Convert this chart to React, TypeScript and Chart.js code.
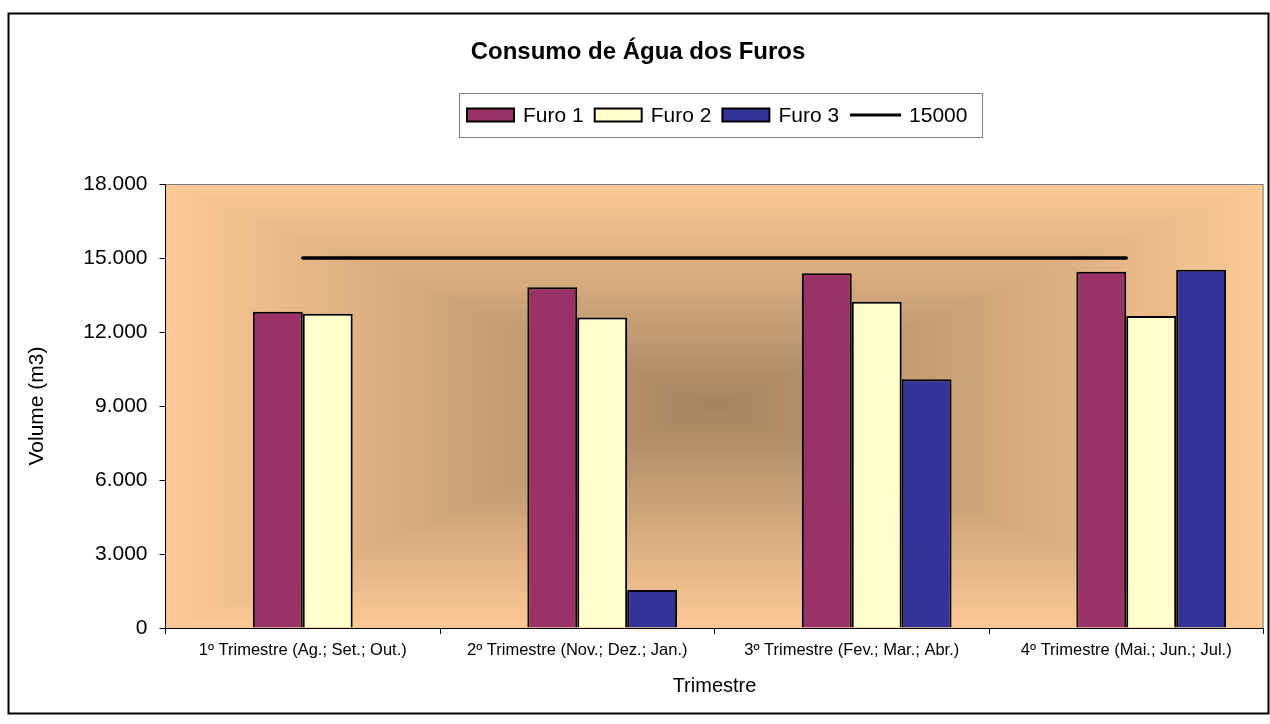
import React, { useEffect, useRef } from 'react';
import { Chart, registerables } from 'chart.js';

Chart.register(...registerables);

// ---- data ----
const categories = [
  '1º Trimestre (Ag.; Set.; Out.)',
  '2º Trimestre (Nov.; Dez.; Jan.)',
  '3º Trimestre (Fev.; Mar.; Abr.)',
  '4º Trimestre (Mai.; Jun.; Jul.)',
];
const furo1 = [12820, 13810, 14380, 14440];
const furo2 = [12740, 12590, 13230, 12650];
const furo3 = [0, 1540, 10080, 14520];
const limite = [15000, 15000, 15000, 15000];
const emptySlot: (number | null)[] = [null, null, null, null];
const seriesLabels = ['Furo 1', 'Furo 2', 'Furo 3', '15000'];
const seriesColors = ['#993366', '#FFFFCC', '#333399', '#000000'];
const yMin = 0;
const yMax = 18000;
const yStep = 3000;
const chartTitle = 'Consumo de Água dos Furos';
const yTitle = 'Volume (m3)';
const xTitle = 'Trimestre';

const FONT = "'Liberation Sans', Arial, sans-serif";

const fmt = (v: number) => String(v).replace(/\B(?=(\d{3})+(?!\d))/g, '.');

const decorPlugin = {
  id: 'decor',
  beforeDraw(chart: any) {
    const { ctx, chartArea: a } = chart;
    ctx.save();
    ctx.fillStyle = '#ffffff';
    ctx.fillRect(0, 0, chart.width, chart.height);
    // rectangular "from center" gradient
    const w = Math.round(a.right - a.left);
    const h = Math.round(a.bottom - a.top);
    const off = document.createElement('canvas');
    off.width = w;
    off.height = h;
    const octx = off.getContext('2d')!;
    const img = octx.createImageData(w, h);
    const c0 = [164, 132, 96];
    const c1 = [252, 201, 150];
    const cx = w / 2;
    const cy = h / 2;
    for (let y = 0; y < h; y++) {
      for (let x = 0; x < w; x++) {
        const t = Math.min(1, Math.max(Math.abs(x + 0.5 - cx) / cx, Math.abs(y + 0.5 - cy) / cy));
        const i = (y * w + x) * 4;
        img.data[i] = c0[0] + (c1[0] - c0[0]) * t;
        img.data[i + 1] = c0[1] + (c1[1] - c0[1]) * t;
        img.data[i + 2] = c0[2] + (c1[2] - c0[2]) * t;
        img.data[i + 3] = 255;
      }
    }
    octx.putImageData(img, 0, 0);
    ctx.drawImage(off, a.left, a.top);
    // plot-area border
    ctx.strokeStyle = '#808080';
    ctx.lineWidth = 1;
    ctx.strokeRect(a.left, a.top + 0.5, a.right - a.left - 0.5, a.bottom - a.top);
    // outer frame
    ctx.strokeStyle = '#000';
    ctx.lineWidth = 2;
    ctx.strokeRect(8.5, 13.5, 1260, 700);
    ctx.restore();
  },
  afterDraw(chart: any) {
    const { ctx, chartArea: a } = chart;
    ctx.save();
    ctx.fillStyle = '#000';
    // title
    ctx.font = `bold 24px ${FONT}`;
    ctx.textAlign = 'center';
    ctx.textBaseline = 'middle';
    ctx.fillText(chartTitle, 638, 52);
    // axis titles
    ctx.font = `20px ${FONT}`;
    ctx.fillText(xTitle, (a.left + a.right) / 2, 686);
    ctx.font = `21px ${FONT}`;
    ctx.save();
    ctx.translate(37, (a.top + a.bottom) / 2);
    ctx.rotate(-Math.PI / 2);
    ctx.fillText(yTitle, 0, 0);
    ctx.restore();
    // legend
    const lx = 459, ly = 93, lw = 523, lh = 44;
    ctx.fillStyle = '#fff';
    ctx.fillRect(lx, ly, lw, lh);
    ctx.strokeStyle = '#808080';
    ctx.lineWidth = 1;
    ctx.strokeRect(lx + 0.5, ly + 0.5, lw, lh);
    ctx.font = `21px ${FONT}`;
    ctx.textAlign = 'left';
    const midY = ly + lh / 2;
    let x = 467;
    for (let i = 0; i < seriesLabels.length; i++) {
      if (i < 3) {
        ctx.fillStyle = seriesColors[i];
        ctx.fillRect(x, midY - 6.5, 47, 13);
        ctx.strokeStyle = '#000';
        ctx.lineWidth = 2;
        ctx.strokeRect(x, midY - 6.5, 47, 13);
        x += 56;
      } else {
        ctx.strokeStyle = '#000';
        ctx.lineWidth = 3;
        ctx.beginPath();
        ctx.moveTo(x, midY);
        ctx.lineTo(x + 51, midY);
        ctx.stroke();
        x += 59;
      }
      ctx.fillStyle = '#000';
      ctx.fillText(seriesLabels[i], x, midY + 1);
      x += ctx.measureText(seriesLabels[i]).width + 11;
    }
    ctx.restore();
  },
};

export default function App() {
  const ref = useRef<HTMLCanvasElement | null>(null);
  useEffect(() => {
    if (!ref.current) return;
    const barCommon = {
      type: 'bar' as const,
      borderColor: '#000',
      borderWidth: 2,
      categoryPercentage: 4 / 5.5,
      barPercentage: 1,
      order: 1,
    };
    const chart = new Chart(ref.current, {
      type: 'bar',
      data: {
        labels: categories,
        datasets: [
          { ...barCommon, label: '', data: emptySlot, backgroundColor: 'transparent', borderWidth: 0 },
          { ...barCommon, label: seriesLabels[0], data: furo1, backgroundColor: seriesColors[0] },
          { ...barCommon, label: seriesLabels[1], data: furo2, backgroundColor: seriesColors[1] },
          { ...barCommon, label: seriesLabels[2], data: furo3, backgroundColor: seriesColors[2] },
          {
            type: 'line',
            label: seriesLabels[3],
            data: limite,
            borderColor: seriesColors[3],
            backgroundColor: seriesColors[3],
            borderWidth: 3.5,
            borderCapStyle: 'round',
            pointRadius: 0,
            fill: false,
            order: 0,
          } as any,
        ],
      },
      options: {
        animation: false,
        responsive: true,
        maintainAspectRatio: false,
        layout: { padding: { left: 0, right: 6.5, top: 184, bottom: 56 } },
        plugins: {
          legend: { display: false },
          title: { display: false },
          tooltip: { enabled: false },
        },
        scales: {
          x: {
            offset: true,
            grid: { offset: true, drawOnChartArea: false, drawTicks: true, tickLength: 6, color: '#000' },
            border: { display: true, color: '#000', width: 1 },
            ticks: {
              font: { family: FONT, size: 16.5 },
              color: '#000',
              padding: 7,
              maxRotation: 0,
              autoSkip: false,
            },
            afterFit: (s: any) => { s.height = 40; },
          },
          y: {
            min: yMin,
            max: yMax,
            grid: { drawOnChartArea: false, drawTicks: true, tickLength: 6, color: '#000' },
            border: { display: true, color: '#000', width: 1 },
            ticks: {
              stepSize: yStep,
              font: { family: FONT, size: 21 },
              color: '#000',
              padding: 12,
              callback: (v: any) => fmt(Number(v)),
            },
            afterFit: (s: any) => { s.width = 165.5; },
          },
        },
      },
      plugins: [decorPlugin],
    });
    return () => chart.destroy();
  }, []);
  return (
    <div style={{ position: 'fixed', left: 0, top: 0, width: 1270, height: 724, background: '#fff' }}>
      <canvas ref={ref} />
    </div>
  );
}
